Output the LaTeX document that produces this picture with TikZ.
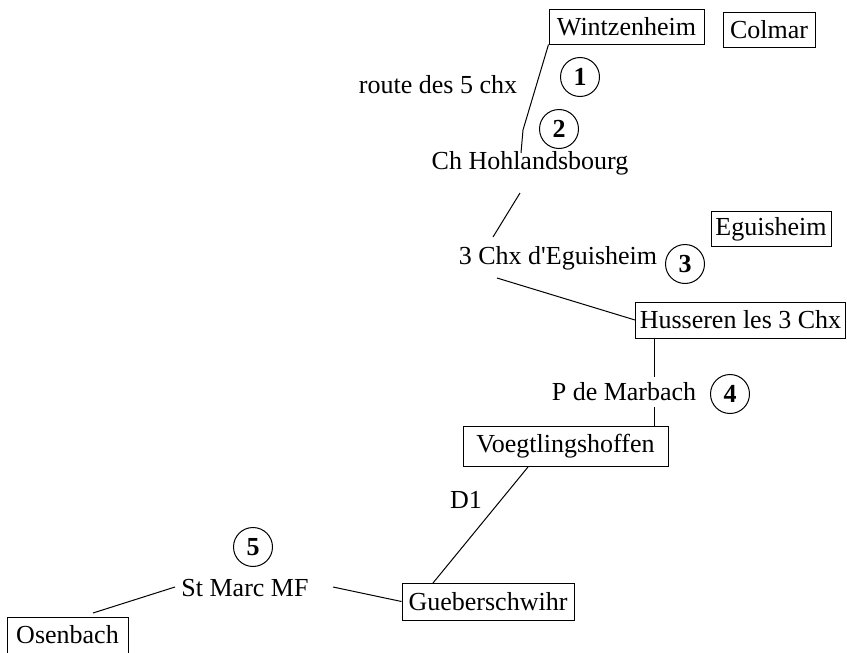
\documentclass[tikz,border=0pt]{standalone}
\usepackage{fontspec}
\setmainfont{Liberation Serif}[Ligatures=TeXOff]
\begin{document}
\begin{tikzpicture}[x=0.75pt,y=-0.75pt,
  every node/.style={font=\fontsize{19.5}{22}\selectfont},
  box/.style={draw, line width=0.75pt, inner sep=0pt, minimum height=26.25pt},
  lbl/.style={inner sep=0pt},
  num/.style={draw, circle, line width=0.75pt, inner sep=0pt, minimum size=29.25pt, font=\fontsize{19.5}{22}\selectfont\bfseries},
  road/.style={line width=0.75pt}]
\useasboundingbox (0,0) rectangle (847,653);
% boxes
\node[box, minimum width=116.25pt] (wintz) at (626.5,26.5) {Wintzenheim};
\node[box, minimum width=69pt] (colmar) at (769,29.5) {Colmar};
\node[box, minimum width=90pt] (egu) at (771,229) {Eguisheim};
\node[box, minimum width=157.5pt, minimum height=27pt] (huss) at (740.5,320) {Husseren les 3 Chx};
\node[box, minimum width=153.75pt, minimum height=30pt] (voeg) at (565.5,446.5) {Voegtlingshoffen};
\node[box, minimum width=129pt, minimum height=27.75pt] (gueb) at (488,601.5) {Gueberschwihr};
\node[box, minimum width=90.75pt, minimum height=27pt] (osen) at (67.5,635) {Osenbach};
% labels
\node[lbl] (route) at (438,85) {route des 5 chx};
\node[lbl] (hohl) at (530,163) {Ch Hohlandsbourg};
\node[lbl] (trois) at (558,258) {3 Chx d'Eguisheim};
\node[lbl] (marb) at (624,392) {P de Marbach};
\node[lbl] (d1) at (466,500) {D1};
\node[lbl] (stmarc) at (245,588) {St Marc MF};
% numbers
\node[num] (n1) at (580,77) {1};
\node[num] (n2) at (559,129) {2};
\node[num] (n3) at (685,264) {3};
\node[num] (n4) at (730,394) {4};
\node[num] (n5) at (253,547) {5};
% connector points
\coordinate (a1) at (523,130);
\coordinate (a2) at (521,153);
\coordinate (b1) at (520,193);
\coordinate (b2) at (493,237);
\coordinate (c1) at (497,278);
\coordinate (d1t) at (654,377);
\coordinate (d1b) at (654,407);
\coordinate (e1) at (333,587);
\coordinate (f1) at (93,613);
\coordinate (f2) at (175,587);
\coordinate (g1) at (528,467);
\coordinate (g2) at (433,583);
% connectors
\draw[road] (wintz.south west) -- (a1) -- (a2);
\draw[road] (b1) -- (b2);
\draw[road] (c1) -- (huss.west);
\draw[road] (huss.south -| d1t) -- (d1t);
\draw[road] (d1b) -- (voeg.north -| d1b);
\draw[road] (g1) -- (g2);
\draw[road] (e1) -- (gueb.west);
\draw[road] (f1) -- (f2);
\end{tikzpicture}
\end{document}
